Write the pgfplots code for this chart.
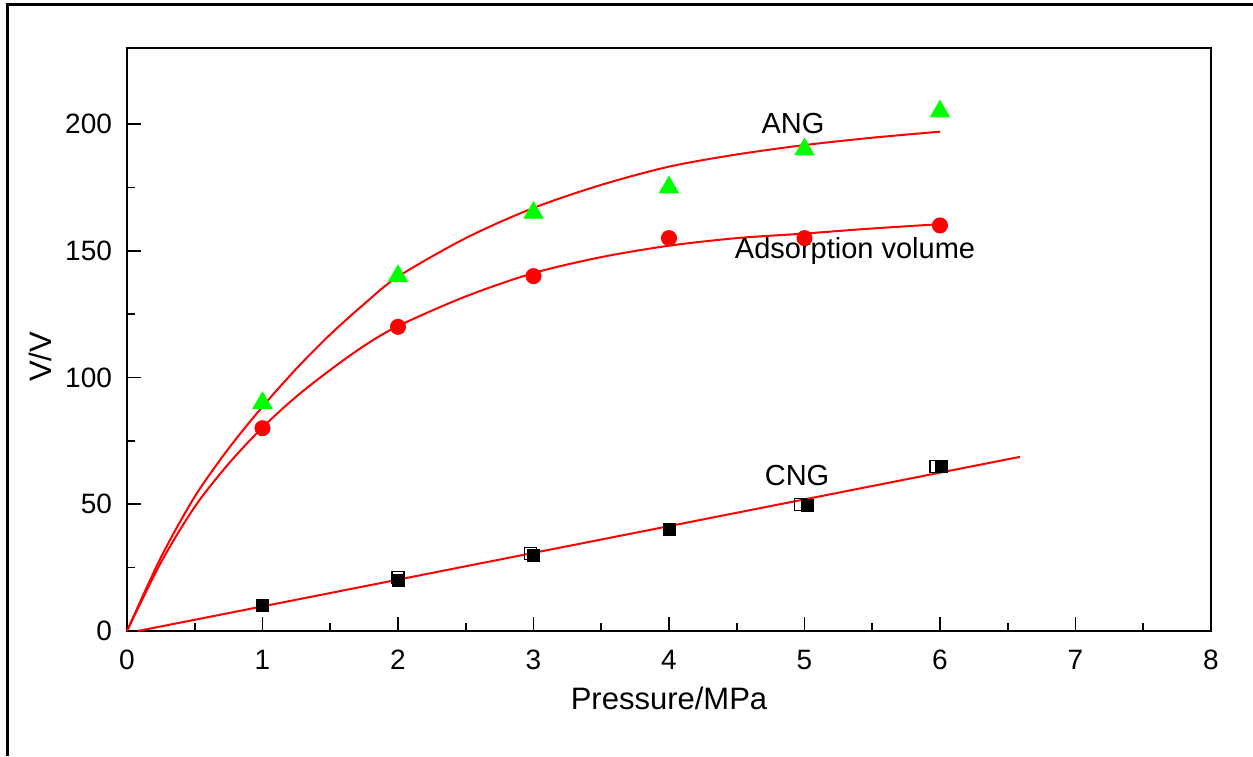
\documentclass[border=0pt]{standalone}
\usepackage{fontspec}
\setmainfont{Liberation Sans}
\usepackage{pgfplots}
\pgfplotsset{compat=1.18}

\begin{document}
\begin{tikzpicture}
\path[use as bounding box] (0pt,0pt) rectangle (626.5pt,378pt);
\draw[line width=1.5pt] (3.5pt,0pt) -- (3.5pt,375.5pt) -- (626.5pt,375.5pt);
\begin{axis}[
  at={(63.5pt,62.5pt)}, anchor=origin,
  scale only axis, width=542pt, height=291.5pt,
  xmin=0, xmax=8, ymin=0, ymax=230,
  xtick={0,1,...,8}, ytick={0,50,...,200},
  minor x tick num=1, minor y tick num=1,
  xtick pos=bottom, ytick pos=left,
  tick align=inside,
  major tick length=7pt, minor tick length=3.8pt,
  axis line style={line width=0.8pt},
  every tick/.style={black, line width=0.8pt},
  /pgf/number format/assume math mode=true,
  tick label style={font=\fontsize{14}{16}\selectfont},
  xticklabel style={yshift=-6pt},
  yticklabel style={xshift=-4pt},
  xlabel={Pressure/MPa},
  ylabel={V/V},
  label style={font=\fontsize{15.5}{18}\selectfont},
  xlabel style={at={(axis description cs:0.5,-0.115)}, anchor=center},
  ylabel style={at={(axis description cs:-0.08,0.47)}, anchor=center},
  clip=false,
]
% fitted curves
\addplot[red, line width=1pt, smooth, no marks] coordinates {
  (0,0) (0.25,29) (0.5,53) (0.75,72) (1,88.5) (1.25,103.5) (1.5,117) (1.75,129)
  (2,139.8) (2.5,155) (3,166.9) (3.5,176) (4,183.2) (4.5,188) (5,191.7) (5.5,194.6) (6,197)
};
\addplot[red, line width=1pt, smooth, no marks] coordinates {
  (0,0) (0.25,27) (0.5,49) (0.75,66) (1,80.3) (1.25,92.5) (1.5,103) (1.75,112.5)
  (2,120.3) (2.5,132) (3,141.2) (3.5,147.5) (4,152) (4.5,155) (5,156.8) (5.5,158.8) (6,160.5)
};
\addplot[red, line width=1pt, no marks] coordinates {(0.08,0) (6.59,68.7)};
% measured points
\addplot[only marks, mark=triangle*, mark size=5.5pt,
  mark options={fill=green, draw=green}] coordinates {
  (1,90) (2,140) (3,165) (4,175) (5,190) (6,205)
};
\addplot[only marks, mark=*, mark size=3.8pt,
  mark options={fill=red, draw=red}] coordinates {
  (1,80) (2,120) (3,140) (4,155) (5,155) (6,160)
};
\addplot[only marks, mark=square, mark size=3pt,
  mark options={draw=black, line width=0.7pt}] coordinates {
  (2,21) (2.98,30.5) (4.97,50) (5.97,65)
};
\addplot[only marks, mark=square*, mark size=3pt,
  mark options={fill=black, draw=black}] coordinates {
  (1,10) (2,20) (3,30) (4,40) (5.02,49.5) (6.01,65)
};
\node[font=\fontsize{14.5}{17}\selectfont] at (axis cs:4.915,200.4) {ANG};
\node[font=\fontsize{14.5}{17}\selectfont] at (axis cs:5.373,149.9) {Adsorption volume};
\node[font=\fontsize{14.5}{17}\selectfont] at (axis cs:4.945,61.5) {CNG};
\end{axis}
\end{tikzpicture}
\end{document}
